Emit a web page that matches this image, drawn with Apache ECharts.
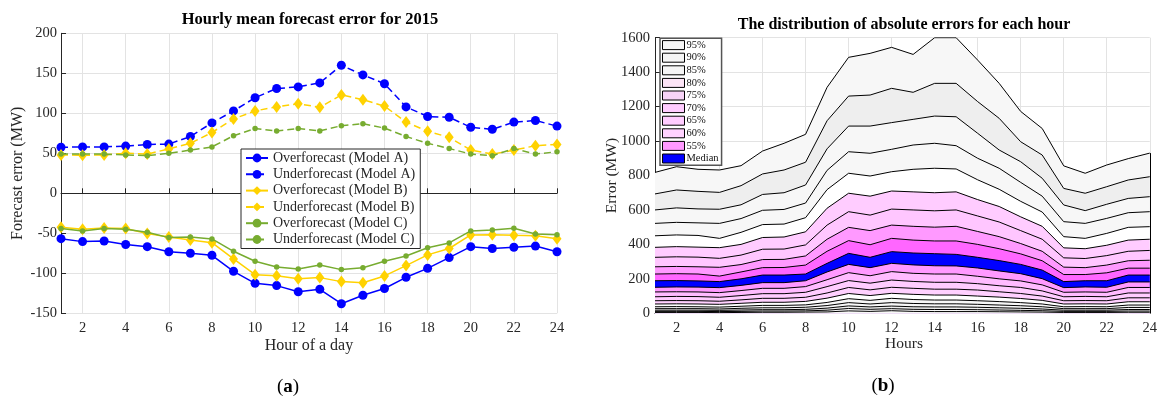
<!DOCTYPE html>
<html><head><meta charset="utf-8">
<script src="https://cdn.jsdelivr.net/npm/echarts@6/dist/echarts.min.js"></script>
<style>html,body{margin:0;padding:0;background:#fff}#c{width:1160px;height:401px}</style>
</head><body><div id="c"></div><script>
// ---------- data ----------
const hours = ['1','2','3','4','5','6','7','8','9','10','11','12','13','14','15','16','17','18','19','20','21','22','23','24'];

// panel (a): hourly mean forecast error (MW)
const overA  = [-56.7,-60.4,-59.6,-64,-66.7,-73,-75,-77.5,-97.5,-112.5,-115.4,-123,-120,-138,-127.5,-119,-105,-93.8,-80.4,-66.7,-69,-67.5,-66,-73];
const underA = [57.5,58,58,59,61,61.5,71,88,103,119.5,131,133,138,160,148,137,108,96,95,82.5,80,89,91,84];
const overB  = [-42.5,-45,-43.3,-44,-50.4,-54.6,-58.3,-61.7,-82,-101.7,-103,-106.7,-105.4,-110.4,-111.7,-103.3,-90.4,-77,-69,-52,-51.7,-52.5,-53,-56.7];
const underB = [48,47.5,48,50,49,55.5,62.5,76,93,103,108,112,107.5,123,117,109,89,77.5,70,54,49,54,59.5,61];
const overC  = [-44,-47,-44,-45,-48.8,-55.4,-54.6,-57,-72.5,-85,-92,-94.6,-89.6,-95.4,-93,-85,-78.3,-68,-62,-47,-45.8,-43.8,-50.8,-51.7];
const underC = [49,49,49,48,47,50,54,58,72,81,78,81,78,84.5,87,81.5,71,62.5,56,49,47,56,49,52];
const namesA = ['Overforecast (Model A)','Underforecast (Model A)','Overforecast (Model B)','Underforecast (Model B)','Overforecast (Model C)','Underforecast (Model C)'];

// panel (b): percentile boundary lines of absolute error (MW)
const p95 = [818,851,836,832,857,942,987,1039,1312,1486,1509,1544,1503,1600,1600,1470,1335,1172,1073,856,813,861,898,930];
const p90 = [693,716,708,702,741,809,832,877,1118,1261,1267,1306,1283,1335,1335,1229,1132,996,919,725,697,735,774,793];
const p85 = [600,612,606,604,630,690,700,745,955,1087,1087,1107,1126,1145,1141,1045,948,880,784,629,596,633,667,677];
const p80 = [522,528,525,522,550,598,603,640,830,938,929,952,977,987,973,900,842,760,680,532,522,551,584,590];
const p75 = [450,455,452,435,470,515,518,555,718,813,797,822,836,842,838,775,720,650,588,445,435,464,499,503];
const p70 = [383,387,384,381,400,440,443,473,610,697,680,710,705,700,705,660,620,560,505,380,375,395,425,430];
const p65 = [325,328,326,319,338,372,373,397,512,590,570,605,600,595,600,565,530,480,430,322,318,335,360,365];
const p60 = [270,272,270,267,283,312,313,333,430,499,480,512,505,500,505,475,445,405,360,268,265,280,305,308];
const p55 = [228,230,228,216,240,265,266,280,360,422,398,435,425,420,420,400,375,345,305,225,225,235,262,262];
const medHi = [189,190,188,184,200,222,222,228,290,348,325,358,350,346,342,325,306,284,251,184,189,189,222,222];
const medLo = [151,153,152,149,162,178,178,189,240,284,265,290,281,276,275,263,246,230,201,149,153,151,182,182];
const p45 = [124,125,124,120,132,145,145,155,195,236,218,242,232,228,228,215,200,188,165,122,124,122,150,150];
const p40 = [96,98,97,93,103,114,114,122,155,190,175,193,185,180,180,172,160,150,130,96,98,96,118,118];
const p35 = [73,74,73,70,78,87,87,93,118,150,136,151,145,140,140,135,125,115,100,73,74,73,90,90];
const p30 = [54,55,54,52,58,64,64,69,88,115,103,116,110,106,106,100,94,86,75,54,55,54,67,67];
const p25 = [38,39,38,36,41,46,46,49,63,85,75,87,80,77,77,73,68,62,54,38,39,38,48,48];
const p20 = [27,27,27,25,29,32,32,35,45,62,54,62,57,55,55,52,48,44,38,27,27,27,34,34];
const p15 = [18,18,18,17,19,21,21,23,30,43,37,42,38,37,37,35,32,29,25,18,18,18,22,22];
const p10 = [11,11,11,10,11,13,13,14,18,28,23,27,23,22,22,21,19,17,15,11,11,11,13,13];
const p05 = [5,5,5,4,5,6,6,7,8,14,11,15,11,10,10,10,9,8,7,5,5,5,6,6];

const bandLines  = [p95,p90,p85,p80,p75,p70,p65,p60,p55,medHi,medLo,p45,p40,p35,p30,p25,p20,p15,p10,p05];
const bandFills  = ['#f7f7f7','#eeeeee','#f7f7f7','#f7f7f7','#ffffff','#ffccff','#ffc6ff','#ff99ff','#ff66ff','#0000ff',
                    '#ff99ff','#ffbbff','#ffccff','#ffd0ff','#ffffff','#f7f7f7','#f7f7f7','#eeeeee','#f7f7f7','#f7f7f7'];
const legendNamesB  = ['95%','90%','85%','80%','75%','70%','65%','60%','55%','Median'];
const legendColorsB = ['#f5f5f5','#f5f5f5','#f5f5f5','#fce4f6','#f7d3f7','#ffccff','#ffccff','#ffd2ff','#ff99ff','#0000ff'];

// ---------- chart ----------
const FONT = 'Liberation Serif';
const TXT = '#262626';
const chart = echarts.init(document.getElementById('c'), null, {renderer: 'canvas'});
const evenIdx = (i) => i % 2 === 1;

function xAxisCfg(gridIndex){
  return {
    type: 'category', gridIndex, data: hours, boundaryGap: false,
    axisLine: {show: true, lineStyle: {color: TXT, width: 1}},
    axisTick: {show: true, inside: true, length: 5, interval: evenIdx, lineStyle: {color: TXT}},
    axisLabel: {interval: evenIdx, margin: 7, color: TXT, fontFamily: FONT, fontSize: 14.5},
    splitLine: {show: true, interval: evenIdx, lineStyle: {color: '#e3e3e3', width: 1}}
  };
}
function yAxisCfg(gridIndex, min, max, interval, margin){
  return {
    type: 'value', gridIndex, min, max, interval,
    axisLine: {show: true, lineStyle: {color: TXT, width: 1}},
    axisTick: {show: true, inside: true, length: 5, lineStyle: {color: TXT}},
    axisLabel: {margin, color: TXT, fontFamily: FONT, fontSize: 14.5, formatter: (v) => String(v)},
    splitLine: {show: true, lineStyle: {color: '#e3e3e3', width: 1}}
  };
}

const lineColors = ['#0000ff','#0000ff','#ffd200','#ffd200','#77ac30','#77ac30'];
const lineData = [overA, underA, overB, underB, overC, underC];
const symbols = ['circle','circle','diamond','diamond','circle','circle'];
const symSizes = [9,9,[9,12],[9,12],5.5,5.5];

const series = [];
lineData.forEach((d, i) => {
  series.push({
    name: namesA[i], type: 'line', xAxisIndex: 0, yAxisIndex: 0, data: d,
    symbol: symbols[i], symbolSize: symSizes[i], showSymbol: true,
    itemStyle: {color: lineColors[i], borderWidth: 0},
    lineStyle: {color: lineColors[i], width: 1.5, type: (i % 2 === 1) ? [7, 4] : 'solid'},
    z: 3 + i
  });
});

bandLines.forEach((d, i) => {
  const s = {
    name: 'band' + i, type: 'line', xAxisIndex: 1, yAxisIndex: 1, data: d,
    showSymbol: false, symbol: 'none', silent: true,
    lineStyle: {color: '#000', width: 1},
    areaStyle: {color: bandFills[i], opacity: 1, origin: 'start'},
    z: 2
  };
  if (i === 0) {
    s.markLine = {
      silent: true, symbol: 'none', label: {show: false},
      lineStyle: {color: '#000', width: 1, type: 'solid'},
      data: [[{coord: [hours[hours.length-1], 0]}, {coord: [hours[hours.length-1], p95[p95.length-1]]}]]
    };
  }
  series.push(s);
});

legendNamesB.forEach((n, i) => {
  series.push({name: n, type: 'bar', xAxisIndex: 1, yAxisIndex: 1, data: [],
    itemStyle: {color: legendColorsB[i]}});
});

const option = {
  animation: false,
  backgroundColor: '#ffffff',
  grid: [
    {left: 61, top: 33.3, width: 496, height: 280},
    {left: 655, top: 37.7, width: 498, height: 275.6}
  ],
  xAxis: [xAxisCfg(0), xAxisCfg(1)],
  yAxis: [yAxisCfg(0, -150, 200, 50, 4), yAxisCfg(1, 0, 1600, 200, 5)],
  legend: [
    {
      data: namesA, orient: 'vertical', left: 241, top: 149,
      itemWidth: 22, itemHeight: 11, itemGap: 0.3,
      padding: [1, 5, 1, 4],
      borderColor: '#262626', borderWidth: 1, backgroundColor: '#ffffff',
      textStyle: {fontFamily: FONT, fontSize: 14, color: TXT, lineHeight: 16},
      selectedMode: false
    },
    {
      data: legendNamesB, orient: 'vertical', left: 660, top: 38.3,
      icon: 'rect', itemWidth: 22, itemHeight: 9, itemGap: 0,
      padding: [0.5, 3, 0.5, 2],
      itemStyle: {borderColor: '#000', borderWidth: 1},
      borderColor: '#555', borderWidth: 1.5, backgroundColor: '#ffffff',
      textStyle: {fontFamily: FONT, fontSize: 10.5, color: '#111', lineHeight: 12.6, padding: [0,0,0,-3]},
      selectedMode: false
    }
  ],
  graphic: [
    {type: 'text', x: 310, y: 20, style: {text: 'Hourly mean forecast error for 2015', font: 'bold 16.5px "Liberation Serif"', fill: '#000', textAlign: 'center', textVerticalAlign: 'middle'}},
    {type: 'text', x: 904, y: 25, style: {text: 'The distribution of absolute errors for each hour', font: 'bold 16px "Liberation Serif"', fill: '#000', textAlign: 'center', textVerticalAlign: 'middle'}},
    {type: 'text', x: 309, y: 346, style: {text: 'Hour of a day', font: '16px "Liberation Serif"', fill: TXT, textAlign: 'center', textVerticalAlign: 'middle'}},
    {type: 'text', x: 904, y: 344, style: {text: 'Hours', font: '15.5px "Liberation Serif"', fill: TXT, textAlign: 'center', textVerticalAlign: 'middle'}},
    {type: 'text', x: 17.5, y: 173.3, rotation: Math.PI / 2, style: {text: 'Forecast error (MW)', font: '16px "Liberation Serif"', fill: TXT, textAlign: 'center', textVerticalAlign: 'middle'}},
    {type: 'text', x: 611.5, y: 175.5, rotation: Math.PI / 2, style: {text: 'Error (MW)', font: '15.5px "Liberation Serif"', fill: TXT, textAlign: 'center', textVerticalAlign: 'middle'}},
    {type: 'text', x: 288, y: 387, style: {text: '{p|(}{b|a}{p|)}', textAlign: 'center', textVerticalAlign: 'middle',
      rich: {p: {font: '19px "Liberation Serif"', fill: '#000'}, b: {font: 'bold 19px "Liberation Serif"', fill: '#000'}}}},
    {type: 'text', x: 883, y: 386, style: {text: '{p|(}{b|b}{p|)}', textAlign: 'center', textVerticalAlign: 'middle',
      rich: {p: {font: '19px "Liberation Serif"', fill: '#000'}, b: {font: 'bold 19px "Liberation Serif"', fill: '#000'}}}}
  ],
  series
};
chart.setOption(option);
</script></body></html>
